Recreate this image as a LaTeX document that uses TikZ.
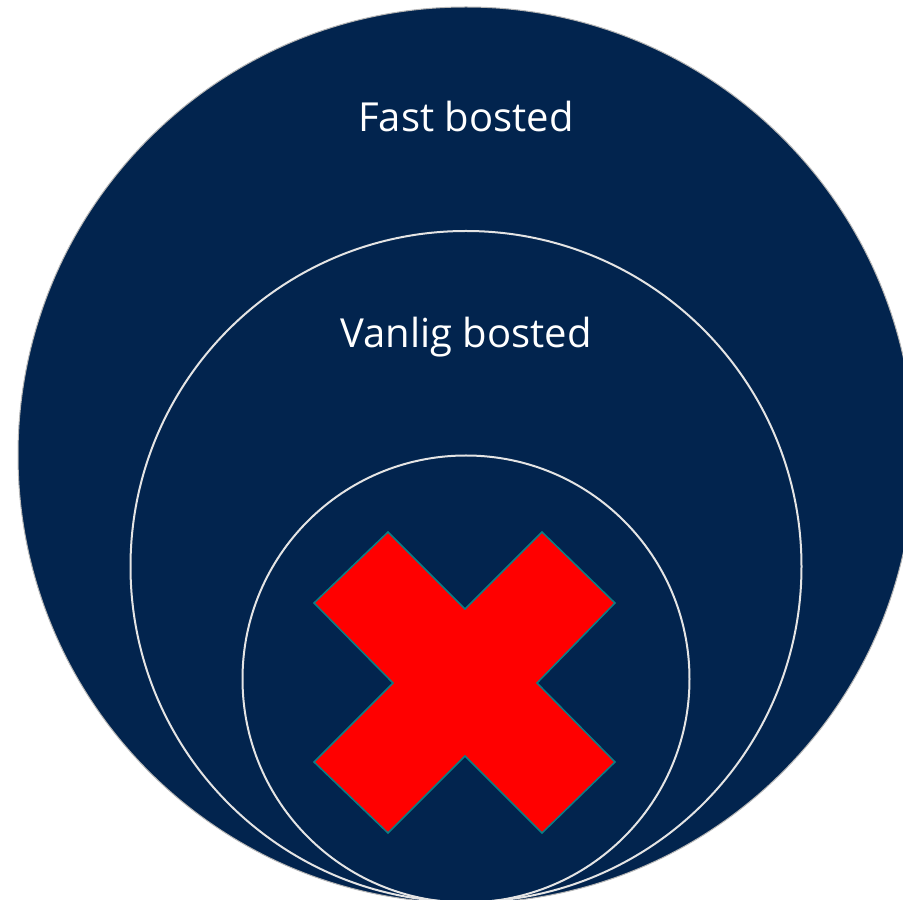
\documentclass[tikz,border=0pt]{standalone}
\usepackage{fontspec}
\setmainfont{Open Sans}
\usepackage{tikz}
\usetikzlibrary{positioning}
\definecolor{navy}{HTML}{02244E}
\definecolor{ringgrey}{HTML}{E4E4E4}
\definecolor{crossteal}{HTML}{0A7F86}
\tikzset{
    %Define style for the filled disc
    disc/.style={
           circle,
           inner sep=0pt, outer sep=0pt,
           draw=ringgrey!80!black, line width=1pt,
           fill=navy},
    %Define style for the inner rings
    ring/.style={
           circle,
           inner sep=0pt, outer sep=0pt,
           draw=ringgrey, line width=2pt},
    %Define style for labels
    label text/.style={
           text=white,
           font=\fontsize{40}{48}\selectfont,
           anchor=base},
    % Define style for the cross
    cross/.style={
           fill=red,
           draw=crossteal,
           line width=1.5pt,
           line join=miter}
}
\begin{document}
\begin{tikzpicture}[x=1pt,y=1pt]
\useasboundingbox (0,0) rectangle (903,900);
\clip (0,0) rectangle (903,900);

 %rings
\node[disc, minimum size=896pt](fast) at (466,445){};
\node[ring, minimum size=671pt](vanlig) at (466,333.5){};
\node[ring, minimum size=447pt](inner) at (466,221){};

 %labels
\node[label text](fastlabel) at (466,768){Fast bosted};
\node[label text](vanliglabel) at (466,552){Vanlig bosted};

 %cross
\filldraw[cross] (388,368) -- (465,291) -- (542,368) -- (615,297)
    -- (537,217) -- (615,138) -- (542,67) -- (465,144)
    -- (388,67) -- (314,138) -- (393,217) -- (314,297) -- cycle;
\end{tikzpicture}
\end{document}
